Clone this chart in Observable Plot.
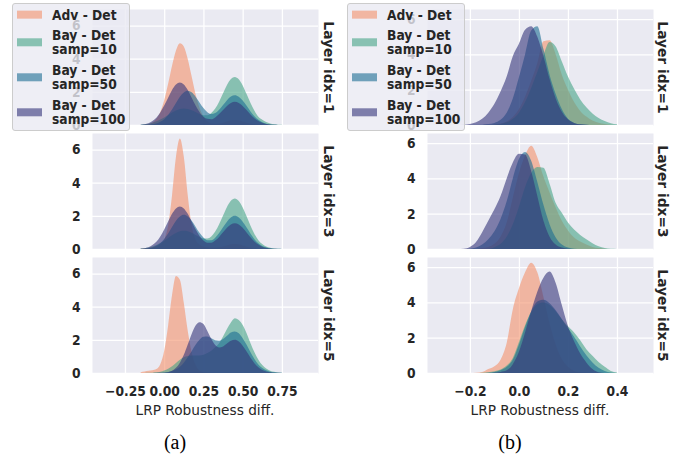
<!DOCTYPE html>
<html><head><meta charset="utf-8">
<script src="https://cdn.jsdelivr.net/npm/d3@7"></script>
<script src="https://cdn.jsdelivr.net/npm/@observablehq/plot@0.6"></script>
<style>
body{margin:0;background:#fff;}
#fig{position:relative;width:681px;height:458px;overflow:hidden;font-family:'DejaVu Sans Condensed','DejaVu Sans',sans-serif;color:#262626}
.panel{position:absolute;top:0}
.legend{position:absolute;top:3px;width:118px;height:128px;box-sizing:border-box;border:1px solid #cccccc;border-radius:3px;background:rgba(234,234,242,0.8)}
.item{position:absolute;left:0;display:flex;align-items:center;transform:translateY(-50%)}
.patch{width:25px;height:8px;margin-left:4px;margin-right:10px;opacity:0.6}
.lab{font-weight:bold;font-size:13.7px;line-height:14.7px;white-space:nowrap}
.xlabel{position:absolute;top:402px;font-family:'DejaVu Sans',sans-serif;font-size:13.7px;transform:translateX(-50%);white-space:nowrap}
.cap{position:absolute;top:431px;font-family:'Liberation Serif','Times New Roman',serif;font-size:20px;color:#000;transform:translateX(-50%)}
</style></head>
<body><div id="fig"></div>
<script>
// ---------- data ----------
const rows = ["Layer idx=1", "Layer idx=3", "Layer idx=5"];
const series = ["Adv - Det", "Bay - Det samp=10", "Bay - Det samp=50", "Bay - Det samp=100"];
const legendLines = [["Adv - Det"], ["Bay - Det", "samp=10"], ["Bay - Det", "samp=50"], ["Bay - Det", "samp=100"]];
const colors = ["#f4916a", "#45a486", "#1a6d93", "#33337a"];
const xTicksA = [-0.25, 0, 0.25, 0.5, 0.75];
const xTicksB = [-0.2, 0, 0.2, 0.4];
const yTicks = [0, 2, 4, 6];

// sample positions of the density curves (panel a)
const xsA = [-0.15,-0.125,-0.1,-0.075,-0.05,-0.025,0,0.025,0.05,0.075,0.1,0.125,0.15,0.175,0.2,0.225,0.25,0.275,0.3,0.325,0.35,0.375,0.4,0.425,0.45,0.475,0.5,0.525,0.55,0.575,0.6,0.625,0.65,0.675,0.7,0.725,0.75];
// panel (a), Layer idx=1
const a1_adv  = [0,0.02,0.05,0.15,0.37,0.79,1.5,2.49,3.57,4.49,4.94,4.74,3.98,2.92,1.86,1.04,0.51,0.22,0.09,0.06,0.08,0.14,0.21,0.28,0.3,0.28,0.21,0.14,0.08,0.04,0.02,0.01,0,0,0,0,0];
const a1_b10  = [0.02,0.04,0.08,0.14,0.22,0.33,0.46,0.61,0.76,0.88,0.97,1.0,0.97,0.89,0.78,0.66,0.59,0.59,0.72,0.99,1.41,1.91,2.41,2.77,2.9,2.76,2.39,1.87,1.33,0.86,0.5,0.32,0.18,0.09,0.04,0.02,0.01];
const a1_b50  = [0,0.01,0.02,0.04,0.09,0.19,0.35,0.61,0.94,1.33,1.7,1.96,2.06,1.97,1.71,1.36,1.02,0.77,0.66,0.72,0.92,1.2,1.5,1.72,1.8,1.71,1.48,1.16,0.82,0.53,0.31,0.17,0.08,0.03,0.01,0,0];
const a1_b100 = [0.02,0.05,0.11,0.24,0.44,0.76,1.17,1.65,2.11,2.44,2.56,2.44,2.11,1.65,1.18,0.79,0.5,0.37,0.35,0.46,0.66,0.91,1.15,1.33,1.4,1.33,1.15,0.9,0.64,0.41,0.24,0.13,0.06,0.03,0.01,0,0];
// panel (a), Layer idx=3
const a2_adv  = [0.02,0.04,0.06,0.1,0.15,0.27,0.56,1.42,3.25,5.56,6.67,5.56,3.25,1.42,0.56,0.27,0.15,0.1,0.07,0.07,0.1,0.15,0.21,0.28,0.3,0.28,0.21,0.14,0.07,0.03,0.01,0,0,0,0,0,0];
const a2_b10  = [0.03,0.05,0.09,0.15,0.24,0.36,0.5,0.67,0.83,0.97,1.07,1.1,1.07,0.98,0.85,0.73,0.64,0.64,0.76,1.05,1.49,2.02,2.54,2.91,3.05,2.9,2.51,1.97,1.4,0.9,0.53,0.3,0.15,0.07,0.03,0.01,0];
const a2_b50  = [0.01,0.02,0.04,0.09,0.19,0.35,0.61,0.94,1.33,1.7,1.96,2.06,1.96,1.71,1.35,0.98,0.7,0.53,0.53,0.68,0.96,1.31,1.65,1.9,2.0,1.9,1.65,1.29,0.92,0.59,0.34,0.18,0.09,0.04,0.02,0.01,0];
const a2_b100 = [0.02,0.05,0.11,0.24,0.44,0.76,1.18,1.66,2.12,2.45,2.57,2.45,2.12,1.66,1.19,0.79,0.51,0.38,0.38,0.51,0.73,1.01,1.28,1.48,1.55,1.48,1.28,1.0,0.71,0.46,0.27,0.14,0.07,0.03,0.01,0,0];
// panel (a), Layer idx=5
const a3_adv  = [0.05,0.09,0.13,0.17,0.24,0.53,1.34,2.87,4.7,5.86,5.62,4.22,2.55,1.24,0.48,0.15,0.05,0.02,0.01,0,0,0,0,0,0,0,0,0,0,0,0,0,0,0,0,0,0];
const a3_b10  = [0,0,0.01,0.02,0.04,0.08,0.15,0.25,0.4,0.6,0.8,0.95,1.02,1.05,1.05,1.05,1.1,1.2,1.35,1.55,1.8,2.2,2.65,3.05,3.3,3.2,2.9,2.4,1.8,1.25,0.8,0.48,0.27,0.14,0.07,0.03,0.01];
const a3_b50  = [0,0,0,0,0.01,0.01,0.03,0.06,0.12,0.22,0.38,0.62,0.95,1.32,1.7,2.0,2.18,2.2,2.1,1.98,1.95,2.05,2.25,2.45,2.5,2.4,2.1,1.7,1.25,0.85,0.52,0.3,0.16,0.08,0.04,0.02,0.01];
const a3_b100 = [0,0,0,0,0,0.01,0.02,0.05,0.13,0.31,0.62,1.1,1.72,2.36,2.86,3.07,2.95,2.54,2.06,1.69,1.54,1.6,1.78,1.95,2.0,1.9,1.65,1.29,0.92,0.59,0.34,0.18,0.09,0.04,0.02,0.01,0];

// sample positions of the density curves (panel b)
const xsB = [-0.25,-0.225,-0.2,-0.175,-0.15,-0.125,-0.1,-0.075,-0.05,-0.025,0,0.025,0.05,0.075,0.1,0.125,0.15,0.175,0.2,0.225,0.25,0.275,0.3,0.325,0.35,0.375,0.4];
// panel (b), Layer idx=1
const b1_adv  = [0,0,0,0,0,0.01,0.03,0.08,0.2,0.45,0.9,1.6,2.5,3.5,4.75,4.8,4.0,2.85,2.0,1.3,0.8,0.48,0.26,0.13,0.06,0.02,0];
const b1_b10  = [0,0,0,0,0,0,0.02,0.05,0.15,0.35,0.7,1.3,2.1,3.0,3.95,4.7,4.45,3.6,2.75,2.05,1.45,1.0,0.65,0.4,0.22,0.1,0.04];
const b1_b50  = [0,0,0,0.01,0.02,0.05,0.12,0.3,0.7,1.5,2.7,4.0,5.35,5.6,4.3,2.85,1.75,0.9,0.35,0.12,0.04,0.01,0,0,0,0,0];
const b1_b100 = [0,0.02,0.06,0.15,0.35,0.7,1.2,1.9,2.75,3.9,4.6,5.4,5.6,5.0,3.9,2.6,1.5,0.75,0.32,0.12,0.04,0.01,0,0,0,0,0];
// panel (b), Layer idx=3
const b2_adv  = [0,0,0,0,0.05,0.12,0.3,0.7,1.5,2.9,4.3,5.3,5.85,5.2,4.1,3.2,2.35,1.6,1.05,0.65,0.42,0.25,0.12,0.05,0.02,0,0];
const b2_b10  = [0,0,0,0,0,0,0.1,0.3,0.7,1.4,2.4,3.5,4.3,4.65,4.6,3.7,2.6,2.05,1.5,1.1,0.8,0.55,0.33,0.15,0.05,0.01,0];
const b2_b50  = [0,0,0.02,0.08,0.25,0.55,1.0,1.7,2.7,4.0,5.1,5.5,5.0,3.8,2.5,1.4,0.65,0.25,0.08,0.02,0,0,0,0,0,0,0];
const b2_b100 = [0,0.02,0.12,0.4,0.95,1.6,2.25,3.0,4.0,4.9,5.4,5.35,4.4,3.0,1.6,0.7,0.25,0.08,0.02,0,0,0,0,0,0,0,0];
// panel (b), Layer idx=5
const b3_adv  = [0,0,0,0.01,0.05,0.22,0.38,0.75,1.7,3.6,4.8,5.7,6.25,5.7,4.3,2.8,1.6,0.8,0.35,0.12,0.04,0.01,0,0,0,0,0];
const b3_b10  = [0,0,0,0,0.01,0.04,0.1,0.2,0.42,0.85,1.75,2.7,3.45,3.9,4.0,3.85,3.5,3.05,2.65,2.3,1.85,1.35,0.98,0.62,0.35,0.12,0.03];
const b3_b50  = [0,0,0,0,0,0.02,0.06,0.15,0.35,0.75,1.6,2.6,3.5,4.05,4.15,3.95,3.55,3.05,2.55,2.05,1.5,1.0,0.6,0.3,0.12,0.03,0];
const b3_b100 = [0,0,0,0,0,0,0.02,0.06,0.15,0.5,1.2,2.3,3.5,4.6,5.4,5.75,5.1,3.85,2.65,1.8,1.1,0.6,0.22,0.04,0,0,0];

// ---------- build tables ----------
const curvesA = [[a1_adv,a1_b10,a1_b50,a1_b100],[a2_adv,a2_b10,a2_b50,a2_b100],[a3_adv,a3_b10,a3_b50,a3_b100]];
const curvesB = [[b1_adv,b1_b10,b1_b50,b1_b100],[b2_adv,b2_b10,b2_b50,b2_b100],[b3_adv,b3_b10,b3_b50,b3_b100]];
function table(xs, curves) {
  const out = [];
  curves.forEach((rowCurves, r) => rowCurves.forEach((vals, s) => vals.forEach((v, i) =>
    out.push({row: rows[r], series: series[s], x: xs[i], y: v}))));
  return out;
}
const FONT = "'DejaVu Sans Condensed','DejaVu Sans',sans-serif";

function panel({data, width, marginLeft, marginRight, xDomain, xTicks, fmt, yMax, labelDx}) {
  const areas = series.map((s, k) => Plot.areaY(data.filter(d => d.series === s), {
    x: "x", y: "y", fy: "row", fill: colors[k], fillOpacity: 0.6, curve: "monotone-x"
  }));
  return Plot.plot({
    width, height: 420,
    marginLeft, marginRight, marginTop: 9, marginBottom: 47,
    style: {fontFamily: FONT, fontSize: "13.7px", color: "#262626", background: "transparent", overflow: "visible"},
    x: {domain: xDomain, label: null},
    y: {domain: [0, yMax], label: null},
    fy: {domain: rows, paddingInner: 0.065, paddingOuter: 0, axis: null, label: null},
    marks: [
      Plot.frame({fill: "#eaeaf2", stroke: "none"}),
      Plot.gridX(xTicks, {stroke: "white", strokeOpacity: 1, strokeWidth: 1.3}),
      Plot.gridY(yTicks, {stroke: "white", strokeOpacity: 1, strokeWidth: 1.3}),
      ...areas,
      Plot.axisY(yTicks, {tickSize: 0, tickPadding: 12, fontWeight: "bold", label: null}),
      Plot.axisX(xTicks, {tickSize: 0, tickPadding: 13, fontWeight: "bold", tickFormat: fmt, label: null}),
      Plot.text(rows, {fy: d => d, text: d => d, frameAnchor: "right", textAnchor: "middle", lineAnchor: "middle",
        rotate: 90, dx: labelDx,
        fontWeight: "bold", fontSize: 13.8, fontFamily: "'DejaVu Sans',sans-serif", fill: "#262626"})
    ]
  });
}

const fig = document.getElementById("fig");
const pa = panel({data: table(xsA, curvesA), width: 340, marginLeft: 92, marginRight: 22,
  xDomain: [-0.46, 0.98], xTicks: xTicksA, fmt: d3.format(".2f"), yMax: 7.0, labelDx: 10});
const pb = panel({data: table(xsB, curvesB), width: 341, marginLeft: 87, marginRight: 28,
  xDomain: [-0.375, 0.547], xTicks: xTicksB, fmt: d3.format(".1f"), yMax: 6.57, labelDx: 9});
pa.classList.add("panel"); pa.style.left = "0px";
pb.classList.add("panel"); pb.style.left = "340px";
fig.appendChild(pa); fig.appendChild(pb);

// axis labels and captions
function addDiv(cls, text, left) {
  const d = document.createElement("div");
  d.className = cls; d.textContent = text; d.style.left = left + "px";
  fig.appendChild(d);
}
addDiv("xlabel", "LRP Robustness diff.", 205);
addDiv("xlabel", "LRP Robustness diff.", 540);
addDiv("cap", "(a)", 175);
addDiv("cap", "(b)", 510);

// legends
const itemCenters = [11, 38.5, 73.5, 108.5];
function legend(left) {
  const box = document.createElement("div");
  box.className = "legend"; box.style.left = left + "px";
  legendLines.forEach((lines, k) => {
    const it = document.createElement("div");
    it.className = "item"; it.style.top = itemCenters[k] + "px";
    const p = document.createElement("div");
    p.className = "patch"; p.style.background = colors[k];
    const t = document.createElement("div");
    t.className = "lab"; t.innerHTML = lines.join("<br>");
    it.appendChild(p); it.appendChild(t); box.appendChild(it);
  });
  fig.appendChild(box);
}
legend(12);
legend(347);
</script>
</body></html>
